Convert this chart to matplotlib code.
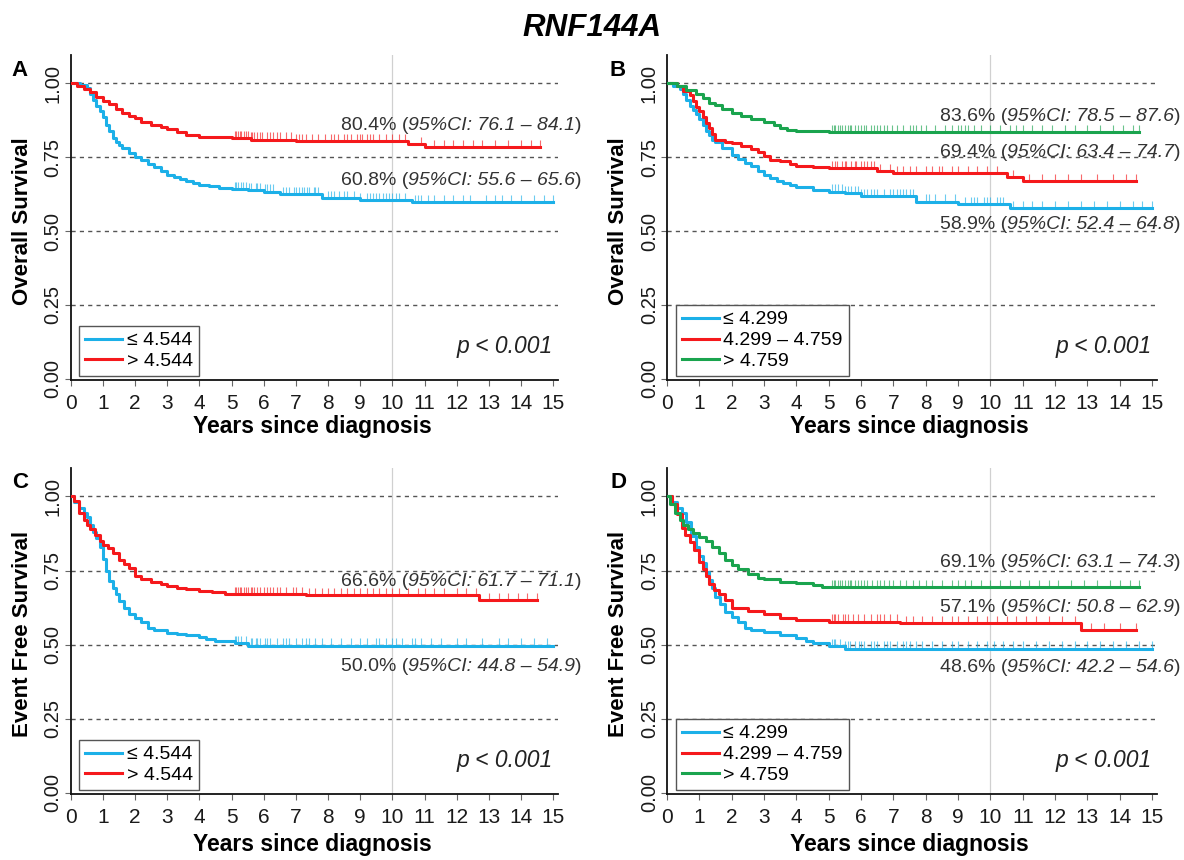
import numpy as np
import matplotlib
matplotlib.use("Agg")
import matplotlib.pyplot as plt
from matplotlib.offsetbox import TextArea, HPacker, AnnotationBbox

plt.rcParams['font.family'] = ['Liberation Sans', 'DejaVu Sans']

BLUE = '#1cb0e8'
RED = '#f5191c'
GREEN = '#1aa44e'

# ---------------- data ----------------
# panel A : overall survival, 2 groups
a_low_t = [0, 0.3, 0.5, 0.6, 0.7, 0.8, 0.9, 1.0, 1.1, 1.2, 1.3, 1.4, 1.5, 1.6, 1.8, 2.0, 2.2, 2.4, 2.6, 2.8,
           3.0, 3.2, 3.4, 3.6, 3.8, 4.0, 4.3, 4.6, 5.0, 5.5, 6.0, 6.5, 7.8, 9.0, 10.6, 15.0]
a_low_s = [1.0, 0.995, 0.985, 0.965, 0.945, 0.925, 0.905, 0.885, 0.86, 0.838, 0.815, 0.80, 0.79, 0.78, 0.765,
           0.752, 0.74, 0.728, 0.718, 0.705, 0.69, 0.682, 0.675, 0.668, 0.662, 0.657, 0.652, 0.647, 0.643,
           0.638, 0.634, 0.626, 0.612, 0.606, 0.597, 0.597]
a_low_cens = [5.1, 5.15, 5.2, 5.3, 5.35, 5.45, 5.55, 5.6, 5.75, 5.8, 5.9, 6.05, 6.1, 6.2, 6.3, 6.6, 6.7, 6.8,
              6.95, 7.0, 7.1, 7.2, 7.25, 7.35, 7.4, 7.55, 7.6, 7.7, 8.0, 8.1, 8.2, 8.35, 8.5, 8.6, 8.8, 9.0,
              9.2, 9.3, 9.4, 9.5, 9.6, 9.7, 9.8, 9.9, 10.0, 10.1, 10.2, 10.4, 10.7, 10.8, 10.9, 11.1, 11.3,
              11.6, 11.9, 12.2, 12.4, 12.9, 13.2, 13.4, 13.7, 14.0, 14.4, 14.7, 15.0]
a_high_t = [0, 0.2, 0.4, 0.6, 0.8, 1.0, 1.2, 1.4, 1.6, 1.8, 2.0, 2.2, 2.5, 2.8, 3.0, 3.3, 3.6, 4.0, 4.5, 5.0,
            5.6, 7.0, 10.5, 11.0, 14.6]
a_high_s = [1.0, 0.99, 0.98, 0.97, 0.955, 0.94, 0.93, 0.912, 0.90, 0.89, 0.882, 0.87, 0.858, 0.853, 0.846,
            0.835, 0.826, 0.82, 0.817, 0.814, 0.81, 0.806, 0.795, 0.786, 0.786]
a_high_cens = [5.1, 5.15, 5.2, 5.25, 5.3, 5.4, 5.45, 5.5, 5.6, 5.65, 5.7, 5.8, 5.9, 5.95, 6.1, 6.2, 6.3,
               6.4, 6.5, 6.7, 6.85, 7.0, 7.1, 7.2, 7.3, 7.5, 7.7, 7.9, 8.1, 8.2, 8.3, 8.5, 8.6, 8.7, 8.9,
               9.0, 9.05, 9.2, 9.3, 9.4, 9.6, 9.8, 10.0, 10.2, 10.4, 10.9, 11.3, 11.6, 11.9, 12.2, 12.5,
               12.8, 13.2, 13.6, 14.0, 14.3, 14.6]

# panel B : overall survival, 3 groups
b_low_t = [0, 0.2, 0.4, 0.5, 0.6, 0.7, 0.8, 0.9, 1.0, 1.1, 1.2, 1.3, 1.4, 1.5, 1.7, 2.0, 2.2, 2.4, 2.6, 2.8,
           3.0, 3.2, 3.4, 3.6, 3.8, 4.0, 4.5, 5.0, 5.5, 6.0, 7.7, 9.0, 10.6, 15.0]
b_low_s = [1.0, 0.99, 0.98, 0.965, 0.945, 0.925, 0.91, 0.895, 0.878, 0.86, 0.84, 0.825, 0.81, 0.80, 0.78,
           0.758, 0.745, 0.73, 0.72, 0.705, 0.69, 0.68, 0.67, 0.663, 0.655, 0.648, 0.64, 0.634, 0.628, 0.62,
           0.60, 0.592, 0.577, 0.577]
b_low_cens = [5.1, 5.2, 5.3, 5.4, 5.5, 5.6, 5.7, 5.8, 5.9, 6.0, 6.1, 6.2, 6.3, 6.4, 6.5, 6.7, 6.9, 7.0, 7.1,
              7.2, 7.3, 7.4, 7.5, 7.6, 8.0, 8.1, 8.3, 8.6, 8.9, 9.2, 9.4, 9.5, 9.6, 9.8, 9.9, 10.0, 10.2,
              10.3, 10.4, 10.7, 11.0, 11.3, 11.6, 12.0, 12.4, 12.8, 13.2, 13.6, 14.0, 14.4, 14.7, 15.0]
b_mid_t = [0, 0.3, 0.5, 0.7, 0.8, 0.9, 1.0, 1.1, 1.2, 1.3, 1.4, 1.5, 1.8, 2.0, 2.3, 2.6, 2.8, 3.0, 3.2, 3.5,
           3.8, 4.0, 4.5, 5.0, 6.5, 7.0, 10.5, 11.0, 14.5]
b_mid_s = [1.0, 0.99, 0.975, 0.96, 0.94, 0.92, 0.905, 0.885, 0.865, 0.848, 0.828, 0.81, 0.80, 0.797, 0.788,
           0.778, 0.768, 0.755, 0.742, 0.738, 0.728, 0.722, 0.718, 0.713, 0.704, 0.696, 0.684, 0.67, 0.67]
b_mid_cens = [5.1, 5.2, 5.25, 5.4, 5.5, 5.55, 5.7, 5.8, 5.85, 6.0, 6.1, 6.2, 6.3, 6.4, 6.6, 6.9, 7.1, 7.3,
              7.5, 7.7, 8.0, 8.2, 8.4, 8.5, 8.8, 9.0, 9.3, 9.6, 9.9, 10.2, 10.7, 11.2, 11.6, 12.0, 12.4,
              12.8, 13.3, 13.8, 14.2, 14.5]
b_high_t = [0, 0.3, 0.6, 0.9, 1.1, 1.3, 1.5, 1.7, 2.0, 2.3, 2.6, 3.0, 3.3, 3.5, 3.7, 4.0, 5.0, 14.6]
b_high_s = [1.0, 0.99, 0.978, 0.963, 0.95, 0.935, 0.926, 0.915, 0.90, 0.89, 0.88, 0.868, 0.858, 0.848,
            0.842, 0.839, 0.836, 0.836]
b_high_cens = [5.1, 5.15, 5.2, 5.3, 5.35, 5.4, 5.5, 5.6, 5.65, 5.7, 5.8, 5.9, 6.0, 6.1, 6.15, 6.3, 6.4,
               6.5, 6.6, 6.7, 6.8, 6.95, 7.1, 7.3, 7.5, 7.6, 7.7, 7.85, 8.0, 8.3, 8.6, 8.8, 9.0, 9.1, 9.2,
               9.3, 9.5, 9.7, 10.0, 10.3, 10.6, 10.8, 11.0, 11.3, 11.6, 11.9, 12.3, 12.6, 13.0, 13.4, 13.8,
               14.1, 14.4, 14.6]

# panel C : event free survival, 2 groups
c_low_t = [0, 0.1, 0.25, 0.4, 0.5, 0.6, 0.7, 0.8, 0.9, 1.0, 1.1, 1.2, 1.3, 1.4, 1.5, 1.65, 1.8, 2.0, 2.2,
           2.4, 2.6, 3.0, 3.3, 3.6, 4.0, 4.2, 4.5, 5.0, 5.1, 5.5, 15.0]
c_low_s = [1.0, 0.98, 0.96, 0.945, 0.93, 0.905, 0.88, 0.86, 0.83, 0.79, 0.75, 0.715, 0.69, 0.67, 0.648,
           0.625, 0.605, 0.59, 0.575, 0.555, 0.548, 0.541, 0.535, 0.532, 0.527, 0.518, 0.514, 0.512, 0.504,
           0.497, 0.497]
c_low_cens = [5.1, 5.15, 5.2, 5.3, 5.45, 5.6, 5.65, 5.75, 5.8, 5.9, 6.05, 6.1, 6.2, 6.4, 6.6, 6.7, 6.8, 7.0,
              7.2, 7.3, 7.4, 7.6, 7.8, 8.1, 8.4, 8.7, 9.0, 9.2, 9.5, 9.6, 9.8, 10.0, 10.1, 10.3, 10.6,
              10.7, 10.9, 11.2, 11.5, 12.0, 12.3, 12.8, 13.3, 13.6, 14.0, 14.4, 14.8]
c_high_t = [0, 0.1, 0.25, 0.4, 0.5, 0.6, 0.75, 0.9, 1.0, 1.15, 1.3, 1.5, 1.65, 1.8, 2.0, 2.2, 2.5, 2.8, 3.0,
            3.3, 3.6, 4.0, 4.4, 4.8, 7.3, 12.7, 14.5]
c_high_s = [1.0, 0.985, 0.945, 0.92, 0.905, 0.89, 0.87, 0.85, 0.837, 0.825, 0.81, 0.786, 0.772, 0.758,
            0.732, 0.72, 0.71, 0.703, 0.698, 0.692, 0.687, 0.681, 0.676, 0.671, 0.666, 0.649, 0.649]
c_high_cens = [5.1, 5.15, 5.2, 5.25, 5.3, 5.4, 5.45, 5.5, 5.6, 5.65, 5.7, 5.8, 5.9, 6.0, 6.1, 6.2, 6.3,
               6.4, 6.5, 6.7, 6.9, 7.0, 7.2, 7.4, 7.6, 7.8, 8.0, 8.2, 8.4, 8.6, 8.8, 9.0, 9.2, 9.4, 9.6,
               9.8, 10.0, 10.2, 10.5, 10.8, 11.0, 11.3, 11.6, 12.0, 12.3, 12.6, 13.0, 13.3, 13.6, 13.9,
               14.2, 14.5]

# panel D : event free survival, 3 groups
d_low_t = [0, 0.15, 0.3, 0.45, 0.6, 0.75, 0.9, 1.0, 1.1, 1.2, 1.3, 1.4, 1.5, 1.65, 1.8, 2.0, 2.2, 2.4, 2.6,
           3.0, 3.5, 4.0, 4.3, 4.5, 5.0, 5.5, 15.0]
d_low_s = [1.0, 0.98, 0.96, 0.945, 0.915, 0.865, 0.83, 0.80, 0.775, 0.745, 0.718, 0.69, 0.662, 0.638, 0.61,
           0.595, 0.575, 0.555, 0.548, 0.543, 0.534, 0.523, 0.512, 0.505, 0.496, 0.487, 0.487]
d_low_cens = [5.1, 5.15, 5.2, 5.35, 5.5, 5.6, 5.65, 5.8, 5.95, 6.0, 6.1, 6.3, 6.4, 6.5, 6.7, 6.8, 6.9, 7.1,
              7.3, 7.4, 7.5, 7.7, 7.9, 8.2, 8.5, 8.8, 9.0, 9.3, 9.6, 9.9, 10.1, 10.4, 10.7, 11.0, 11.4,
              11.8, 12.2, 12.6, 13.0, 13.4, 13.8, 14.2, 14.6, 15.0]
d_mid_t = [0, 0.15, 0.3, 0.45, 0.55, 0.7, 0.85, 1.0, 1.1, 1.2, 1.3, 1.45, 1.6, 1.8, 2.0, 2.5, 3.0, 3.5, 4.0,
           5.0, 7.2, 12.8, 14.5]
d_mid_s = [1.0, 0.975, 0.94, 0.895, 0.87, 0.845, 0.82, 0.78, 0.755, 0.73, 0.705, 0.685, 0.672, 0.65, 0.623,
           0.612, 0.604, 0.59, 0.582, 0.578, 0.572, 0.55, 0.55]
d_mid_cens = [5.1, 5.15, 5.2, 5.3, 5.45, 5.5, 5.6, 5.75, 5.9, 6.1, 6.3, 6.5, 6.6, 6.7, 6.9, 7.1, 7.4, 7.6,
              7.9, 8.2, 8.5, 8.8, 9.0, 9.3, 9.6, 9.9, 10.2, 10.5, 10.8, 11.1, 11.4, 11.8, 12.2, 12.6,
              13.1, 13.5, 14.0, 14.5]
d_high_t = [0, 0.1, 0.25, 0.4, 0.5, 0.65, 0.8, 1.0, 1.2, 1.4, 1.6, 1.8, 2.0, 2.2, 2.5, 2.8, 3.0, 3.5, 4.0,
            4.5, 4.8, 14.6]
d_high_s = [1.0, 0.975, 0.944, 0.92, 0.904, 0.89, 0.877, 0.863, 0.85, 0.83, 0.81, 0.787, 0.77, 0.755,
            0.737, 0.725, 0.72, 0.713, 0.707, 0.70, 0.693, 0.693]
d_high_cens = [5.1, 5.15, 5.2, 5.3, 5.35, 5.4, 5.5, 5.6, 5.65, 5.7, 5.8, 5.9, 6.0, 6.1, 6.2, 6.35, 6.5,
               6.6, 6.7, 6.85, 7.0, 7.2, 7.4, 7.6, 7.8, 8.0, 8.2, 8.5, 8.8, 9.0, 9.2, 9.4, 9.7, 10.0, 10.3,
               10.6, 10.9, 11.2, 11.5, 11.8, 12.1, 12.5, 12.9, 13.3, 13.7, 14.0, 14.3, 14.6]

# labels
groups2 = ['≤ 4.544', '> 4.544']
groups3 = ['≤ 4.299', '4.299 – 4.759', '> 4.759']
ci_a = [('60.8%', '95%CI: 55.6 – 65.6', 0.673), ('80.4%', '95%CI: 76.1 – 84.1', 0.859)]
ci_b = [('58.9%', '95%CI: 52.4 – 64.8', 0.521), ('69.4%', '95%CI: 63.4 – 74.7', 0.767),
        ('83.6%', '95%CI: 78.5 – 87.6', 0.887)]
ci_c = [('50.0%', '95%CI: 44.8 – 54.9', 0.426), ('66.6%', '95%CI: 61.7 – 71.1', 0.713)]
ci_d = [('48.6%', '95%CI: 42.2 – 54.6', 0.423), ('57.1%', '95%CI: 50.8 – 62.9', 0.626),
        ('69.1%', '95%CI: 63.1 – 74.3', 0.777)]
p_value = 'p < 0.001'


def surv_at(t, s, x):
    idx = np.searchsorted(t, x, side='right') - 1
    return np.asarray(s)[idx]


def ci_text(ax, pct, ci, y):
    kw = dict(fontsize=14, color='#333333')
    parts = [TextArea(pct + ' (', textprops=kw),
             TextArea(ci, textprops=dict(kw, style='italic')),
             TextArea(')', textprops=kw)]
    box = HPacker(children=parts, align='baseline', pad=0, sep=0)
    ab = AnnotationBbox(box, (15.88, y), xycoords='data', box_alignment=(1, 0.5),
                        frameon=False, pad=0, annotation_clip=False)
    ax.add_artist(ab)


def draw_panel(ax, curves, labels, cis, ylabel, letter, letter_xy, xlab_y):
    ax.set_xlim(0, 15.15)
    ax.set_ylim(-0.004, 1.096)
    for yy in [0.25, 0.5, 0.75, 1.0]:
        ax.axhline(yy, color='#555555', lw=1.0, ls=(0, (3, 3)), zorder=1)
    ax.axvline(10, color='#d0d0d0', lw=0.9, zorder=1)

    for (t, s, cens, col), lab in zip(curves, labels):
        ax.plot(t, s, drawstyle='steps-post', color=col, lw=2.2, label=lab, zorder=3)
        cy = surv_at(t, s, cens)
        ax.vlines(cens, cy - 0.003, cy + 0.024, color=col, lw=0.8, alpha=0.65, zorder=3)

    for pct, ci, y in cis:
        ci_text(ax, pct, ci, y)
    ax.text(15.0, 0.11, p_value, ha='right', va='center', fontsize=16.5, style='italic', color='#222222')

    for side in ['top', 'right']:
        ax.spines[side].set_visible(False)
    for side in ['left', 'bottom']:
        ax.spines[side].set_linewidth(1.3)
        ax.spines[side].set_color('#111111')

    ax.set_xticks(range(0, 16))
    ax.set_yticks([0, 0.25, 0.5, 0.75, 1.0])
    ax.set_yticklabels(['0.00', '0.25', '0.50', '0.75', '1.00'], rotation=90, va='center')
    ax.tick_params(axis='x', length=4.3, width=0.8, color='#666666', labelsize=15, pad=5.5, labelcolor='#1a1a1a')
    ax.tick_params(axis='y', length=4.3, width=0.8, color='#666666', labelsize=14.5, pad=1.5, labelcolor='#1a1a1a')

    ax.set_xlabel('Years since diagnosis', fontsize=16.5, fontweight='bold')
    ax.xaxis.label.set_va('center')
    ax.xaxis.set_label_coords(0.495, xlab_y)
    ax.set_ylabel(ylabel, fontsize=16, fontweight='bold')
    ax.yaxis.label.set_va('center')
    ax.yaxis.set_label_coords(-0.098, 0.49)

    leg = ax.legend(loc='lower left', bbox_to_anchor=(0.018, 0.012), borderaxespad=0, fontsize=14,
                    handlelength=1.9, handletextpad=0.25, labelspacing=0.17, borderpad=0.3,
                    fancybox=False, edgecolor='#555555', framealpha=1)
    leg.get_frame().set_linewidth(1.0)

    fig.text(letter_xy[0] / 1184, 1 - letter_xy[1] / 860, letter, fontsize=16,
             fontweight='bold', ha='center', va='center')


fig = plt.figure(figsize=(11.84, 8.6), dpi=100)
ax_a = fig.add_axes([0.0597, 0.5581, 0.4116, 0.3779])
ax_b = fig.add_axes([0.5633, 0.5581, 0.4139, 0.3779])
ax_c = fig.add_axes([0.0597, 0.0767, 0.4116, 0.3791])
ax_d = fig.add_axes([0.5633, 0.0767, 0.4139, 0.3791])

draw_panel(ax_a, [(a_low_t, a_low_s, a_low_cens, BLUE), (a_high_t, a_high_s, a_high_cens, RED)],
           groups2, ci_a, 'Overall Survival', 'A', (20, 70), -0.142)
draw_panel(ax_b, [(b_low_t, b_low_s, b_low_cens, BLUE), (b_mid_t, b_mid_s, b_mid_cens, RED),
                  (b_high_t, b_high_s, b_high_cens, GREEN)],
           groups3, ci_b, 'Overall Survival', 'B', (618, 70), -0.142)
draw_panel(ax_c, [(c_low_t, c_low_s, c_low_cens, BLUE), (c_high_t, c_high_s, c_high_cens, RED)],
           groups2, ci_c, 'Event Free Survival', 'C', (20, 483), -0.155)
draw_panel(ax_d, [(d_low_t, d_low_s, d_low_cens, BLUE), (d_mid_t, d_mid_s, d_mid_cens, RED),
                  (d_high_t, d_high_s, d_high_cens, GREEN)],
           groups3, ci_d, 'Event Free Survival', 'D', (618, 483), -0.155)

fig.text(0.5, 1 - 28 / 860, 'RNF144A', fontsize=22.5, fontweight='bold', style='italic',
         ha='center', va='center')

fig.savefig('out.png', dpi=100)
